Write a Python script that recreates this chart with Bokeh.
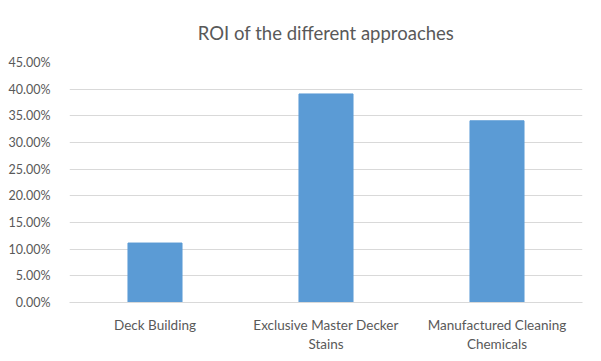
from bokeh.plotting import figure
from bokeh.models import NumeralTickFormatter, FixedTicker, Range1d, CategoricalAxis, CustomJSTickFormatter
from bokeh.embed import file_html
from bokeh.resources import INLINE

categories = ["Deck Building", "Exclusive Master Decker Stains", "Manufactured Cleaning Chemicals"]
label_line1 = ["Deck Building", "Exclusive Master Decker", "Manufactured Cleaning"]
label_line2 = ["", "Stains", "Chemicals"]
roi = [0.1115, 0.391, 0.3407]
y_ticks = [0.0, 0.05, 0.10, 0.15, 0.20, 0.25, 0.30, 0.35, 0.40, 0.45]

FONT = "Lato"
GREY = "#595959"

p = figure(x_range=categories, output_backend="svg",
           toolbar_location=None, x_axis_location=None,
           frame_width=513, frame_height=240,
           min_border_left=69, min_border_right=3, min_border_top=59, min_border_bottom=43)
p.y_range = Range1d(0, 0.45)

p.vbar(x=categories, top=roi, width=0.316, color="#5B9BD5")

p.title.text = "ROI of the different approaches"
p.title.align = "center"
p.title.text_font = FONT
p.title.text_font_size = "18.5px"
p.title.text_font_style = "normal"
p.title.text_color = GREY
p.title.standoff = 38

p.yaxis.ticker = FixedTicker(ticks=y_ticks)
p.yaxis.formatter = NumeralTickFormatter(format="0.00%")
p.yaxis.axis_line_color = None
p.yaxis.major_tick_line_color = None
p.yaxis.minor_tick_line_color = None
p.yaxis.major_label_text_font = FONT
p.yaxis.major_label_text_font_size = "12.5px"
p.yaxis.major_label_text_color = GREY
p.yaxis.major_label_standoff = 13

for lines, standoff, line_color in ((label_line1, 8, "#d9d9d9"), (label_line2, -6, None)):
    fmt = CustomJSTickFormatter(args=dict(cats=categories, lines=lines),
                                code="const i = cats.indexOf(tick); return i >= 0 ? lines[i] : tick;")
    ax = CategoricalAxis(axis_line_color=line_color, major_tick_line_color=None,
                         minor_tick_line_color=None, major_label_text_font=FONT,
                         major_label_text_font_size="13.5px", major_label_text_color=GREY,
                         major_label_standoff=standoff, formatter=fmt)
    p.add_layout(ax, "below")

p.xgrid.grid_line_color = None
p.ygrid.grid_line_color = "#d9d9d9"
p.outline_line_color = None
p.x_range.range_padding = 0

open("out.html", "w").write(file_html(p, INLINE))
